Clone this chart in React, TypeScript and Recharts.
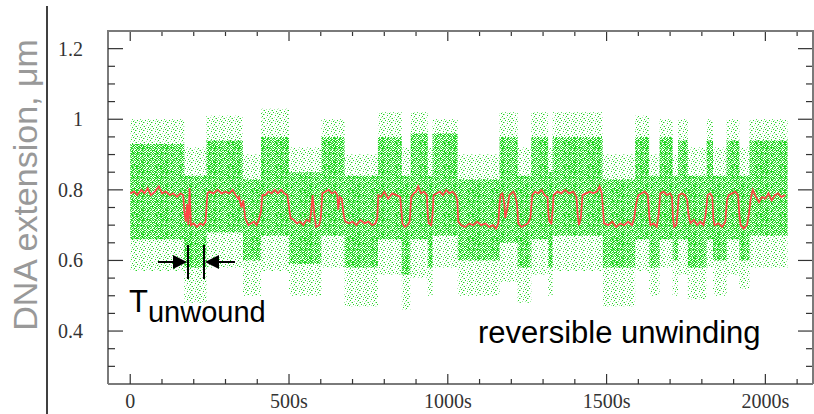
import { ComposedChart, Line, Area, XAxis, YAxis } from 'recharts';

// filtered extension trace (red): [time s, extension µm]
const filteredTrace: [number, number][] = [
  [0, 0.79], [12, 0.795], [22, 0.785], [35, 0.8], [45, 0.79], [55, 0.805], [65, 0.785], [78, 0.795],
  [90, 0.81], [100, 0.79], [112, 0.795], [125, 0.785], [135, 0.79], [148, 0.78], [158, 0.79], [167, 0.785],
  [170, 0.74], [175, 0.71], [179, 0.76], [183, 0.7], [187, 0.805], [191, 0.7], [200, 0.705], [210, 0.695],
  [220, 0.705], [230, 0.7], [237, 0.71], [243, 0.79],
  [250, 0.795], [262, 0.79], [275, 0.8], [288, 0.79], [300, 0.795], [312, 0.79], [322, 0.8], [332, 0.785],
  [340, 0.775], [343, 0.78], [350, 0.75], [356, 0.77], [362, 0.72], [372, 0.7],
  [380, 0.705], [390, 0.71], [398, 0.7], [405, 0.715], [412, 0.74], [416, 0.785],
  [425, 0.785], [435, 0.795], [445, 0.79], [455, 0.8], [465, 0.79], [475, 0.8], [485, 0.79], [495, 0.785],
  [500, 0.75], [505, 0.72], [515, 0.715], [525, 0.705], [535, 0.71], [545, 0.7], [555, 0.715], [565, 0.71],
  [570, 0.74], [574, 0.785], [580, 0.73], [585, 0.695], [595, 0.7], [600, 0.72],
  [605, 0.79], [615, 0.795], [625, 0.8], [635, 0.79], [645, 0.795], [652, 0.785], [655, 0.744],
  [660, 0.78], [666, 0.775], [672, 0.73], [677, 0.71],
  [690, 0.705], [700, 0.71], [712, 0.7], [725, 0.715], [738, 0.705], [750, 0.71], [762, 0.7], [772, 0.705],
  [778, 0.72], [781, 0.785], [790, 0.78], [800, 0.795], [812, 0.775], [825, 0.79], [838, 0.785], [850, 0.78],
  [854, 0.74], [857, 0.705], [865, 0.695], [873, 0.7], [880, 0.71],
  [885, 0.78], [893, 0.79], [900, 0.795], [907, 0.81], [915, 0.79], [925, 0.795], [934, 0.785],
  [937, 0.73], [940, 0.705], [948, 0.7], [952, 0.73],
  [955, 0.785], [965, 0.79], [975, 0.795], [985, 0.785], [995, 0.8], [1005, 0.79], [1015, 0.795],
  [1025, 0.785], [1030, 0.77],
  [1033, 0.71], [1042, 0.7], [1055, 0.695], [1068, 0.705], [1080, 0.7], [1092, 0.71], [1105, 0.7],
  [1118, 0.705], [1130, 0.695], [1142, 0.7], [1152, 0.69], [1159, 0.705],
  [1163, 0.76], [1166, 0.785], [1172, 0.79], [1178, 0.76], [1181, 0.72], [1188, 0.75], [1194, 0.785],
  [1200, 0.79], [1206, 0.795], [1212, 0.785], [1218, 0.76],
  [1222, 0.705], [1232, 0.695], [1242, 0.7], [1252, 0.705], [1260, 0.72],
  [1266, 0.785], [1275, 0.795], [1285, 0.79], [1295, 0.8], [1305, 0.785], [1314, 0.78],
  [1317, 0.73], [1320, 0.71], [1326, 0.705], [1330, 0.74],
  [1333, 0.785], [1345, 0.795], [1357, 0.79], [1370, 0.8], [1382, 0.79], [1395, 0.795], [1405, 0.78],
  [1409, 0.73], [1413, 0.7], [1419, 0.72], [1424, 0.785], [1435, 0.79], [1447, 0.795], [1458, 0.79],
  [1470, 0.795], [1478, 0.81], [1485, 0.79],
  [1489, 0.74], [1492, 0.705], [1505, 0.7], [1518, 0.71], [1530, 0.695], [1543, 0.705], [1555, 0.7],
  [1568, 0.71], [1580, 0.7], [1587, 0.72],
  [1593, 0.76], [1600, 0.785], [1610, 0.79], [1620, 0.795], [1630, 0.785],
  [1634, 0.73], [1638, 0.7], [1648, 0.705], [1658, 0.695], [1664, 0.73],
  [1669, 0.79], [1680, 0.795], [1690, 0.785], [1700, 0.79], [1706, 0.78],
  [1709, 0.72], [1713, 0.695], [1720, 0.7], [1724, 0.74],
  [1727, 0.785], [1737, 0.79], [1747, 0.785], [1754, 0.77],
  [1758, 0.73], [1764, 0.705], [1775, 0.715], [1785, 0.7], [1795, 0.71], [1805, 0.7], [1812, 0.73],
  [1818, 0.785], [1826, 0.79], [1833, 0.78],
  [1836, 0.72], [1840, 0.7], [1852, 0.705], [1864, 0.695], [1874, 0.71],
  [1879, 0.77], [1884, 0.785], [1895, 0.79], [1905, 0.795], [1914, 0.785],
  [1918, 0.73], [1922, 0.7], [1932, 0.69], [1942, 0.7], [1948, 0.73],
  [1953, 0.77], [1960, 0.8], [1970, 0.78], [1980, 0.765], [1990, 0.78], [2000, 0.775], [2010, 0.79],
  [2020, 0.77], [2030, 0.785], [2040, 0.79], [2050, 0.78], [2063, 0.785],
];

// raw data cloud (green), per state segment: [start s, core low, core high, sparse low, sparse high]
const rawSegments: [number, number, number, number, number][] = [
  [0, 0.66, 0.93, 0.57, 1.0],
  [170, 0.58, 0.84, 0.48, 0.92],
  [240, 0.68, 0.94, 0.58, 1.01],
  [355, 0.6, 0.83, 0.5, 0.9],
  [412, 0.67, 0.95, 0.57, 1.03],
  [500, 0.59, 0.85, 0.5, 0.92],
  [602, 0.67, 0.95, 0.58, 1.0],
  [675, 0.58, 0.84, 0.47, 0.9],
  [780, 0.66, 0.95, 0.56, 1.02],
  [855, 0.56, 0.84, 0.46, 0.92],
  [883, 0.66, 0.96, 0.55, 1.02],
  [937, 0.58, 0.84, 0.5, 0.92],
  [952, 0.67, 0.96, 0.58, 1.0],
  [1031, 0.6, 0.83, 0.5, 0.9],
  [1163, 0.65, 0.95, 0.54, 1.02],
  [1220, 0.58, 0.84, 0.48, 0.92],
  [1263, 0.66, 0.95, 0.56, 1.02],
  [1316, 0.58, 0.85, 0.5, 0.92],
  [1330, 0.67, 0.95, 0.57, 1.02],
  [1488, 0.58, 0.83, 0.47, 0.9],
  [1590, 0.66, 0.95, 0.57, 1.01],
  [1634, 0.58, 0.84, 0.5, 0.9],
  [1667, 0.66, 0.95, 0.58, 1.0],
  [1708, 0.6, 0.84, 0.5, 0.9],
  [1725, 0.66, 0.94, 0.56, 1.0],
  [1756, 0.58, 0.84, 0.49, 0.92],
  [1815, 0.66, 0.94, 0.58, 1.0],
  [1835, 0.6, 0.84, 0.5, 0.92],
  [1878, 0.66, 0.94, 0.56, 1.0],
  [1918, 0.6, 0.84, 0.52, 0.92],
  [1950, 0.67, 0.94, 0.58, 1.0],
];
const rawEnd = 2070;

const xTicks = [0, 100, 200, 300, 400, 500, 600, 700, 800, 900, 1000, 1100, 1200, 1300, 1400, 1500, 1600, 1700, 1800, 1900, 2000, 2100];
const xLabels = [0, 500, 1000, 1500, 2000];
const yTicks = [0.3, 0.35, 0.4, 0.45, 0.5, 0.55, 0.6, 0.65, 0.7, 0.75, 0.8, 0.85, 0.9, 0.95, 1, 1.05, 1.1, 1.15, 1.2];
const yLabels = [0.4, 0.6, 0.8, 1, 1.2];

const W = 814;
const H = 414;
const LEFT = 108;
const RIGHT = 813;
const TOP = 31;
const BOTTOM = 384;

const traceData = filteredTrace.map(([t, v]) => ({ t, v }));
const lastSeg = rawSegments[rawSegments.length - 1];
const bandData = [
  ...rawSegments.map(([t, cl, ch, sl, sh]) => ({ t, core: [cl, ch], sparse: [sl, sh] })),
  { t: rawEnd, core: [lastSeg[1], lastSeg[2]], sparse: [lastSeg[3], lastSeg[4]] },
];

const isY = (v: number) => yLabels.some((l) => Math.abs(l - v) < 1e-6);
const tickColor = '#333';
const labelFont = '"Liberation Serif", serif';

// bottom axis tick also draws the matching inward tick on the top frame
const BottomTick = (props: any) => {
  const { x, payload } = props;
  const major = xLabels.includes(payload.value);
  const len = major ? 10 : 5;
  return (
    <g>
      <line x1={x} x2={x} y1={BOTTOM} y2={BOTTOM - len} stroke={tickColor} strokeWidth={1.2} />
      <line x1={x} x2={x} y1={TOP} y2={TOP + len} stroke={tickColor} strokeWidth={1.2} />
      {major && (
        <text x={x} y={408} textAnchor="middle" fontFamily={labelFont} fontSize={20} fill="#333">
          {payload.value === 0 ? '0' : `${payload.value}s`}
        </text>
      )}
    </g>
  );
};

// left axis tick also draws the matching inward tick on the right frame
const LeftTick = (props: any) => {
  const { y, payload } = props;
  const major = isY(payload.value);
  const len = major ? 15 : 7;
  return (
    <g>
      <line x1={LEFT} x2={LEFT + len} y1={y} y2={y} stroke={tickColor} strokeWidth={1.2} />
      <line x1={RIGHT} x2={RIGHT - len} y1={y} y2={y} stroke={tickColor} strokeWidth={1.2} />
      {major && (
        <text x={83} y={y + 7} textAnchor="end" fontFamily={labelFont} fontSize={20} fill="#333">
          {String(payload.value)}
        </text>
      )}
    </g>
  );
};

const coreDots = [
  [0, 0], [3, 0], [4, 0], [2, 1], [5, 1], [0, 2], [1, 2], [3, 2],
  [2, 3], [4, 3], [0, 4], [3, 4], [5, 4], [1, 5], [4, 5], [5, 3],
];
const corePale = [[1, 0], [0, 3], [2, 4], [5, 5], [4, 1], [1, 4]];
const sparseDots = [[1, 0], [5, 1], [3, 3], [6, 4], [0, 6], [4, 7], [7, 2]];
const sparsePale = [[2, 5], [7, 6], [5, 5], [0, 2], [3, 1], [6, 0]];

export default function App() {
  const axisLine = { stroke: '#7a7a7a', strokeWidth: 2 };
  return (
    <div style={{ position: 'absolute', left: 0, top: 0, width: W, height: H, background: '#fff' }}>
      <svg width={0} height={0} style={{ position: 'absolute' }}>
        <defs>
          <pattern id="coreDots" width={6} height={6} patternUnits="userSpaceOnUse">
            {coreDots.map(([x, y], i) => (
              <rect key={i} x={x} y={y} width={1} height={1} fill="#1ed61e" />
            ))}
            {corePale.map(([x, y], i) => (
              <rect key={'p' + i} x={x} y={y} width={1} height={1} fill="#8ee88e" />
            ))}
          </pattern>
          <pattern id="sparseDots" width={8} height={8} patternUnits="userSpaceOnUse">
            {sparseDots.map(([x, y], i) => (
              <rect key={i} x={x} y={y} width={1} height={1} fill="#26d626" />
            ))}
            {sparsePale.map(([x, y], i) => (
              <rect key={'p' + i} x={x} y={y} width={1} height={1} fill="#a8eea8" />
            ))}
          </pattern>
        </defs>
      </svg>
      <ComposedChart width={W} height={H} margin={{ top: TOP, right: W - RIGHT, bottom: 0, left: 0 }}>
        <XAxis
          dataKey="t"
          type="number"
          domain={[-70, 2150]}
          ticks={xTicks}
          interval={0}
          height={H - BOTTOM}
          axisLine={axisLine}
          tickLine={false}
          tick={<BottomTick />}
          allowDataOverflow
        />
        <YAxis
          type="number"
          domain={[0.25, 1.25]}
          ticks={yTicks}
          interval={0}
          width={LEFT}
          axisLine={axisLine}
          tickLine={false}
          tick={<LeftTick />}
          allowDataOverflow
        />
        <Area
          data={bandData}
          dataKey="sparse"
          type="stepAfter"
          stroke="none"
          fill="url(#sparseDots)"
          fillOpacity={1}
          isAnimationActive={false}
          activeDot={false}
        />
        <Area
          data={bandData}
          dataKey="core"
          type="stepAfter"
          stroke="none"
          fill="url(#coreDots)"
          fillOpacity={1}
          isAnimationActive={false}
          activeDot={false}
        />
        <Line
          data={traceData}
          dataKey="v"
          type="linear"
          stroke="#ff4646"
          strokeWidth={1.7}
          dot={false}
          activeDot={false}
          isAnimationActive={false}
        />
      </ComposedChart>
      <svg
        width={W}
        height={H}
        style={{ position: 'absolute', left: 0, top: 0, pointerEvents: 'none' }}
        fontFamily='"Liberation Sans", Arial, sans-serif'
      >
        {/* top and right frame lines */}
        <line x1={LEFT - 1} x2={RIGHT + 1} y1={TOP} y2={TOP} stroke="#7a7a7a" strokeWidth={2} />
        <line x1={RIGHT} x2={RIGHT} y1={TOP} y2={BOTTOM} stroke="#7a7a7a" strokeWidth={2} />
        <line x1={47} x2={47} y1={6} y2={H} stroke="#000" strokeWidth={1.5} />
        <text x={-185} y={37} transform="rotate(-90)" textAnchor="middle" fontSize={34} fill="#999">
          DNA extension, μm
        </text>
        <line x1={158} x2={176} y1={262} y2={262} stroke="#000" strokeWidth={2} />
        <polygon points="173,255 187,262 173,269" fill="#000" />
        <line x1={188} x2={188} y1={245} y2={279} stroke="#000" strokeWidth={2} />
        <line x1={204} x2={204} y1={245} y2={279} stroke="#000" strokeWidth={2} />
        <polygon points="205,262 219,255 219,269" fill="#000" />
        <line x1={216} x2={235} y1={262} y2={262} stroke="#000" strokeWidth={2} />
        <text x={129} y={312} fontSize={31} fill="#000">
          T<tspan fontSize={29} dy={10}>unwound</tspan>
        </text>
        <text x={478} y={343} fontSize={31} fill="#000">
          reversible unwinding
        </text>
      </svg>
    </div>
  );
}
